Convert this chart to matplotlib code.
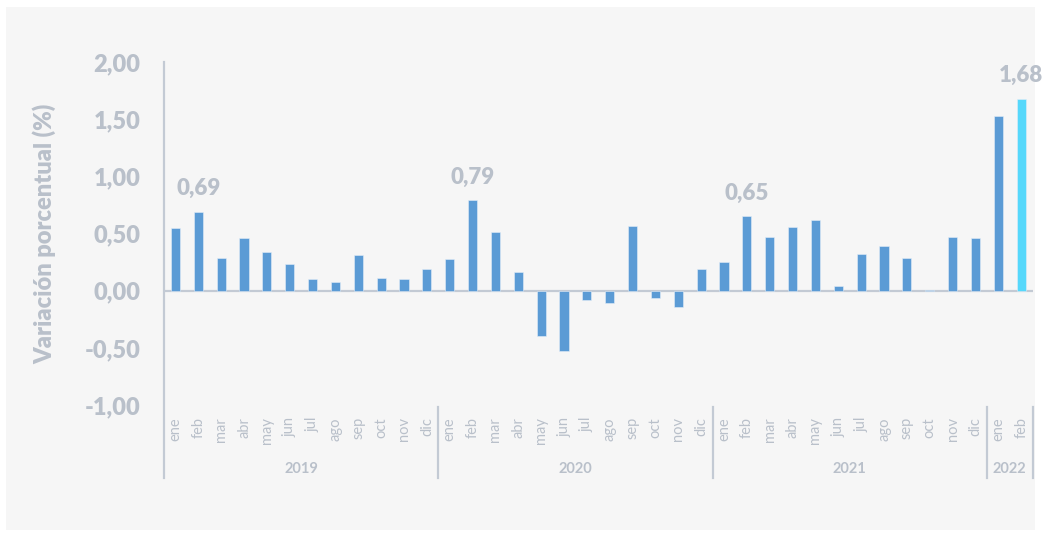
import matplotlib.pyplot as plt
from matplotlib.patches import Rectangle

plt.rcParams['font.family'] = ['Lato', 'DejaVu Sans']

months = ['ene', 'feb', 'mar', 'abr', 'may', 'jun', 'jul', 'ago', 'sep', 'oct', 'nov', 'dic']
years = ['2019', '2020', '2021', '2022']
values_2019 = [0.55, 0.69, 0.29, 0.46, 0.34, 0.23, 0.10, 0.08, 0.31, 0.11, 0.10, 0.19]
values_2020 = [0.28, 0.79, 0.51, 0.16, -0.40, -0.53, -0.08, -0.11, 0.57, -0.06, -0.14, 0.19]
values_2021 = [0.25, 0.65, 0.47, 0.56, 0.62, 0.04, 0.32, 0.39, 0.29, 0.01, 0.47, 0.46]
values_2022 = [1.53, 1.68]
highlights = {1: '0,69', 13: '0,79', 25: '0,65', 37: '1,68'}

values = values_2019 + values_2020 + values_2021 + values_2022
labels = months * 3 + months[:2]
year_sizes = [12, 12, 12, 2]

grey = '#b9c0ca'
line_grey = '#c3cad4'
blue = '#5b9bd5'
cyan = '#56d8fb'

fig = plt.figure(figsize=(10.42, 5.37), dpi=100, facecolor='white')
fig.patches.append(Rectangle((6 / 1042, 7 / 537), 1029 / 1042, 523 / 537,
                             transform=fig.transFigure, facecolor='#f6f6f6',
                             edgecolor='none', zorder=-1))
ax = fig.add_axes([0.1574, 0.2458, 0.8336, 0.6387])
ax.set_facecolor('none')

x = list(range(len(values)))
colors = [blue] * (len(values) - 1) + [cyan]
ax.bar(x, values, width=0.4, color=colors, edgecolor='#e3edf7', linewidth=0.4, zorder=3)
ax.axhline(0, color=line_grey, lw=1.6, zorder=2)

for i, txt in highlights.items():
    ax.text(i, values[i] + 0.11, txt, ha='center', va='bottom', fontsize=16,
            fontweight='heavy', color=grey)

ax.set_xlim(-0.5, len(values) - 0.5)
ax.set_ylim(-1, 2)
ticks = [-1, -0.5, 0, 0.5, 1, 1.5, 2]
ax.set_yticks(ticks)
ax.set_yticklabels([f'{t:.2f}'.replace('.', ',') for t in ticks], fontsize=17,
                   fontweight='heavy', color=grey)
ax.tick_params(axis='y', length=0, pad=17)
ax.set_xticks([])
for s in ['top', 'right', 'bottom', 'left']:
    ax.spines[s].set_visible(False)

ax.set_ylabel('Variación porcentual (%)', fontsize=17, fontweight='heavy',
              color=grey, labelpad=20)

# left axis line, running down through the category area
ax.plot([0, 0], [1, -0.213], transform=ax.transAxes, color=line_grey, lw=1.6,
        clip_on=False)

# month labels
for i, m in enumerate(labels):
    ax.text(i, -0.035, m, transform=ax.get_xaxis_transform(), rotation=90,
            ha='center', va='top', fontsize=10.5, color=grey)

# year groups and separators
start = 0
for y, n in zip(years, year_sizes):
    end = start + n
    ax.text((start + end - 1) / 2, -0.187, y, transform=ax.get_xaxis_transform(),
            ha='center', va='center', fontsize=10.5, fontweight='bold', color=grey)
    ax.plot([end - 0.5, end - 0.5], [-0.006, -0.213], transform=ax.get_xaxis_transform(),
            color=line_grey, lw=1.6, clip_on=False)
    start = end

plt.savefig('out.png', dpi=100, facecolor=fig.get_facecolor())
